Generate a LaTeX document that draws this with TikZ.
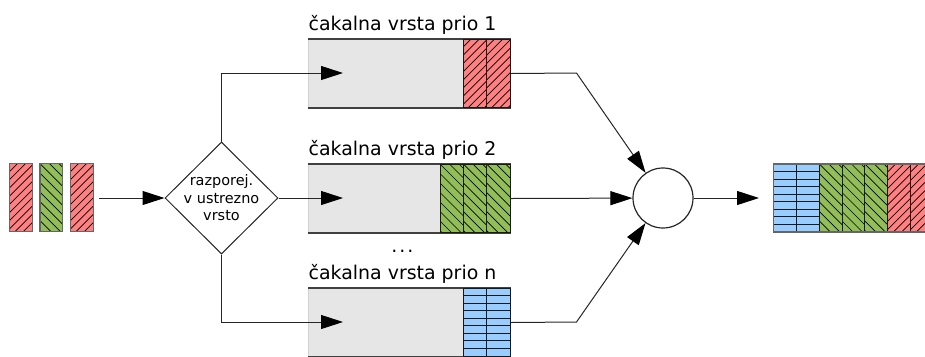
\documentclass[tikz,border=0pt]{standalone}
\usepackage{fontspec}
\setmainfont{DejaVu Sans}
\usetikzlibrary{arrows.meta,shapes.geometric}

\definecolor{cellred}{HTML}{FF8080}
\definecolor{cellgreen}{HTML}{92BE5A}
\definecolor{cellblue}{HTML}{99CCFF}
\definecolor{qfill}{HTML}{E6E6E6}

\tikzset{
  conn/.style={draw=black!85, line width=1bp},
  arr/.style={conn, -{Triangle[length=22bp,width=14bp,color=black]}},
  hatch/.style={draw=black, line width=0.7bp},
  cellline/.style={draw=black!90, line width=1bp},
  queue/.style={draw=black!18, fill=qfill, line width=1bp, minimum width=202bp,
    minimum height=68bp, inner sep=0, anchor=north west},
  qedge/.style={draw=black!75, line width=1.3bp},
  lbl/.style={font=\fontsize{19}{23}\selectfont, inner sep=0, anchor=base west},
  decision/.style={diamond, draw=black!85, line width=1bp, fill=white,
    minimum width=113bp, minimum height=112bp, inner sep=0},
  merger/.style={circle, draw=black!85, line width=1.2bp, fill=white,
    minimum size=60bp, inner sep=0},
  outline/.style={draw=black!60, line width=1.2bp}
}

% red packet: left x, top y, width
\newcommand\redcell[3]{%
  \fill[cellred] (#1,#2) rectangle ++(#3,68);
  \begin{scope}
    \clip (#1,#2) rectangle ++(#3,68);
    \foreach \k in {0,...,12}{\draw[hatch] (#1,#2+\k*8.2) -- ++(40,-40);}
  \end{scope}
  \draw[cellline] (#1,#2) rectangle ++(#3,68);}

% green packet: left x, top y, width
\newcommand\greencell[3]{%
  \fill[cellgreen] (#1,#2) rectangle ++(#3,68);
  \begin{scope}
    \clip (#1,#2) rectangle ++(#3,68);
    \foreach \k in {-3,...,8}{\draw[hatch] (#1,#2+\k*9.5) -- ++(40,40);}
  \end{scope}
  \draw[cellline] (#1,#2) rectangle ++(#3,68);}

% blue packet: left x, top y, width (stacked small rows)
\newcommand\bluecell[3]{%
  \foreach \r in {0,...,8}{\draw[cellline, fill=cellblue] (#1,#2+\r*68/9) rectangle ++(#3,68/9);}
  \draw[cellline] (#1,#2) rectangle ++(#3,68);}

\begin{document}
\begin{tikzpicture}[x=1bp,y=-1bp]
  \useasboundingbox (0,0) rectangle (925,356);
  \clip (0,0) rectangle (925,356);

  % incoming packets
  \redcell{9.3}{163.5}{23.4}
  \greencell{40}{163.5}{22.7}
  \redcell{70.3}{163.5}{23}
  \foreach \x/\w in {9.3/23.4, 40/22.7, 70.3/23}{\draw[outline] (\x,163.5) rectangle ++(\w,68);}
  \coordinate (src) at (99,198);

  % scheduler
  \node[decision] (sched) at (221.5,198) {};
  \node[align=center, inner sep=0, font=\fontsize{14.5}{17.6}\selectfont] (schedtxt) at (sched.center)
    {razporej.\\v ustrezno\\vrsto};

  % queues
  \node[queue] (q1) at (308,39) {};
  \node[queue] (q2) at (308,164) {};
  \node[queue] (q3) at (308,288) {};
  \foreach \q in {q1,q2,q3}{
    \draw[qedge] (\q.north west) -- (\q.north east);
    \draw[qedge] (\q.south west) -- (\q.south east);
  }
  \redcell{463}{39}{23.5}
  \redcell{486.5}{39}{23.5}
  \greencell{440}{164}{23.3}
  \greencell{463.3}{164}{23.4}
  \greencell{486.7}{164}{23.3}
  \bluecell{463}{288}{23.5}
  \bluecell{486.5}{288}{23.5}

  \node[lbl] (l1) at (308.5,30.5) {čakalna vrsta prio 1};
  \node[lbl] (l2) at (308.5,155.5) {čakalna vrsta prio 2};
  \node[lbl] (l3) at (308.5,279.5) {čakalna vrsta prio n};
  \node[lbl, anchor=base] (dots) at (402.3,252.5) {.\kern2bp.\kern2bp.};

  \coordinate (q1in) at (343,73);
  \coordinate (q2in) at (343,198);
  \coordinate (q3in) at (343,322);

  % merger and result
  \node[merger] (merge) at (663,198) {};
  \coordinate (b1) at (576.5,73);
  \coordinate (b3) at (576.5,322);
  \coordinate (outtip) at (759,198);

  \bluecell{773.3}{164}{23}
  \bluecell{796.3}{164}{23}
  \greencell{819.3}{164}{22.7}
  \greencell{842}{164}{22.8}
  \greencell{864.8}{164}{22.7}
  \redcell{887.5}{164}{23}
  \redcell{910.5}{164}{23}
  \draw[outline] (773.3,164) rectangle (940,232);

  % connectors
  \draw[arr] (src) -- (sched.west);
  \draw[arr] (sched.north) |- (q1in);
  \draw[arr] (sched.east) -- (q2in);
  \draw[arr] (sched.south) |- (q3in);
  \draw[arr] (q1.east) -- (b1) -- (merge);
  \draw[arr] (q2.east) -- (merge);
  \draw[arr] (q3.east) -- (b3) -- (merge);
  \draw[arr] (merge.east) -- (outtip);
\end{tikzpicture}
\end{document}
